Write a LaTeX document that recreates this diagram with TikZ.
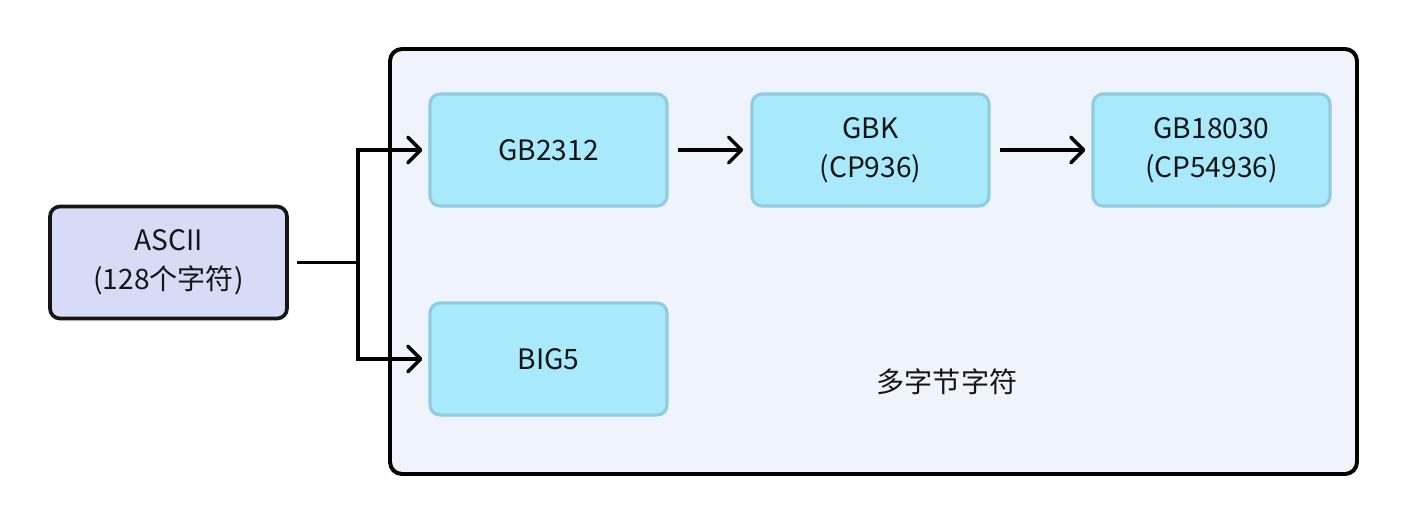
\documentclass[tikz,border=0pt]{standalone}
\usepackage{fontspec}
\setmainfont{Noto Sans CJK SC}
\usepackage{tikz}
\usetikzlibrary{arrows.meta}
\definecolor{asciifill}{HTML}{D7DBF5}
\definecolor{groupfill}{HTML}{EFF3FC}
\definecolor{encfill}{HTML}{A9E9FC}
\definecolor{encline}{HTML}{90CCE0}
\definecolor{inkline}{HTML}{151515}
\tikzset{
    encbox/.style={draw=encline, fill=encfill, line width=2.2pt, rounded corners=0.25cm,
        minimum width=5.925cm, minimum height=2.8cm, align=center, text=inkline},
    srcbox/.style={encbox, draw=inkline, fill=asciifill, line width=2.6pt},
    link/.style={draw=black, line width=2.5pt},
    arr/.style={link, -{Straight Barb[length=3.2mm,width=6.4mm,line cap=round,round]}}
}

\begin{document}
\begin{tikzpicture}[font=\fontsize{20}{27.5}\selectfont]
    \useasboundingbox (0,0) rectangle (35.2,13.15);

    % multibyte group
    \node[draw=black, fill=groupfill, line width=2.8pt, rounded corners=0.3cm,
        minimum width=24.175cm, minimum height=10.625cm] (group) at (21.8375,6.6125) {};
    \node[text=inkline] (grouplabel) at (23.675,3.6) {多字节字符};

    % boxes
    \node[srcbox] (ascii) at (4.2125,6.5875) {ASCII\\(128个字符)};
    \node[encbox] (gb2312) at (13.7125,9.4) {GB2312};
    \node[encbox] (gbk) at (21.7625,9.4) {GBK\\(CP936)};
    \node[encbox] (gb18030) at (30.2875,9.4) {GB18030\\(CP54936)};
    \node[encbox] (big5) at (13.7125,4.175) {BIG5};

    % arrows
    \coordinate (split) at (8.95,6.5875);
    \draw[link, shorten <=0.2cm] (ascii) -- (split);
    \draw[arr, shorten >=0.15cm] (split) |- (gb2312);
    \draw[arr, shorten >=0.15cm] (split) |- (big5);
    \draw[arr, shorten <=0.225cm, shorten >=0.18cm] (gb2312) -- (gbk);
    \draw[arr, shorten <=0.225cm, shorten >=0.15cm] (gbk) -- (gb18030);
\end{tikzpicture}
\end{document}
